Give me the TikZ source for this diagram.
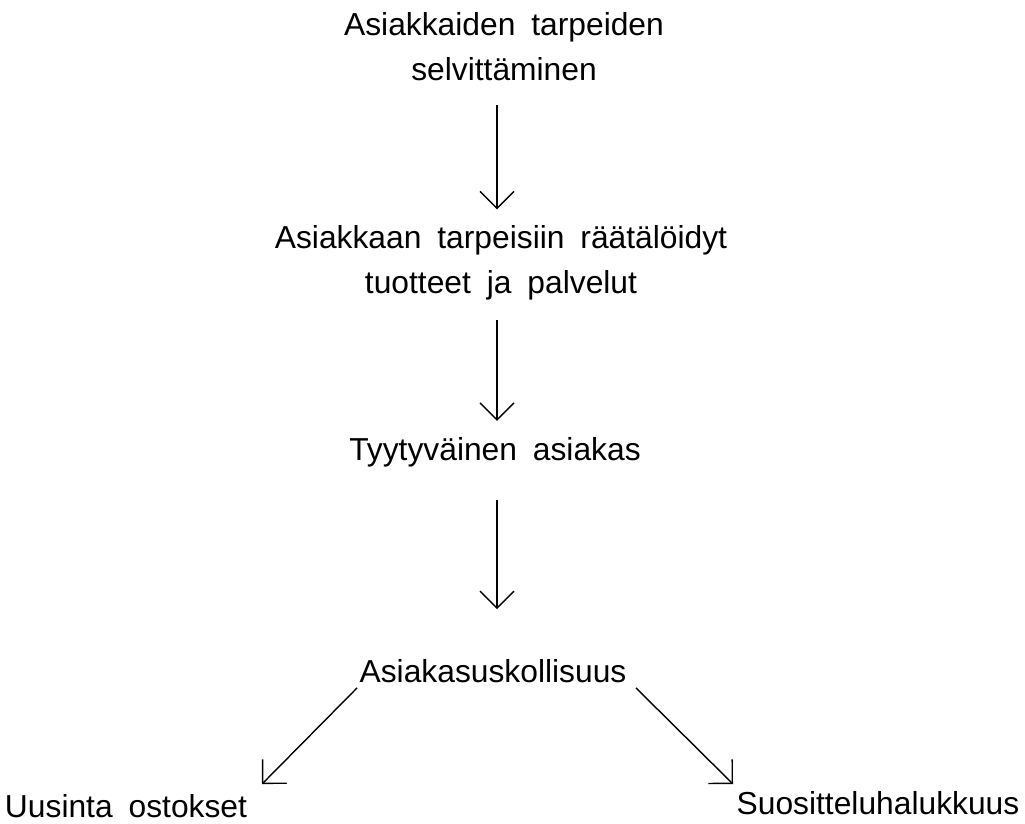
\documentclass[tikz,border=0pt]{standalone}
\usepackage{fontspec}
\setmainfont{Liberation Sans}[WordSpace=1.8]
\usepackage{tikz}
\usetikzlibrary{arrows.meta, calc}

\begin{document}
\begin{tikzpicture}[x=0.025cm, y=-0.025cm,
    stage/.style={inner sep=0pt, align=center, font=\fontsize{22.6}{32}\selectfont},
    flow/.style={line width=1pt, -{Straight Barb[length=4.25mm, width=8.5mm]}}]
\useasboundingbox (0,0) rectangle (1025,823);

% Stages
\node[stage] (tarpeet) at (504,47) {Asiakkaiden tarpeiden\\selvittäminen};
\node[stage] (tuotteet) at (501,263) {Asiakkaan tarpeisiin räätälöidyt\\tuotteet ja palvelut};
\node[stage] (tyytyvainen) at (495,452) {Tyytyväinen asiakas};
\node[stage] (uskollisuus) at (493,671) {Asiakasuskollisuus};
\node[stage] (uusinta) at (126,806) {Uusinta ostokset};
\node[stage] (suosittelu) at (878,803) {Suositteluhalukkuus};
\coordinate (spine) at (497,0);

% Arrows
\draw[flow] (tarpeet.south -| spine) ++(0,24) -- ($(tuotteet.north -| spine)+(0,-16)$);
\draw[flow] (tuotteet.south -| spine) ++(0,19) -- ($(tyytyvainen.north -| spine)+(0,-16)$);
\draw[flow] (tyytyvainen.south -| spine) ++(0,33) -- ($(uskollisuus.north -| spine)+(0,-50)$);
\draw[flow] ($(uskollisuus.south)+(-136,5)$) -- ($(uusinta.north)+(136,-10)$);
\draw[flow] ($(uskollisuus.south)+(143,5)$) -- ($(suosittelu.north)+(-145,-7)$);
\end{tikzpicture}
\end{document}
